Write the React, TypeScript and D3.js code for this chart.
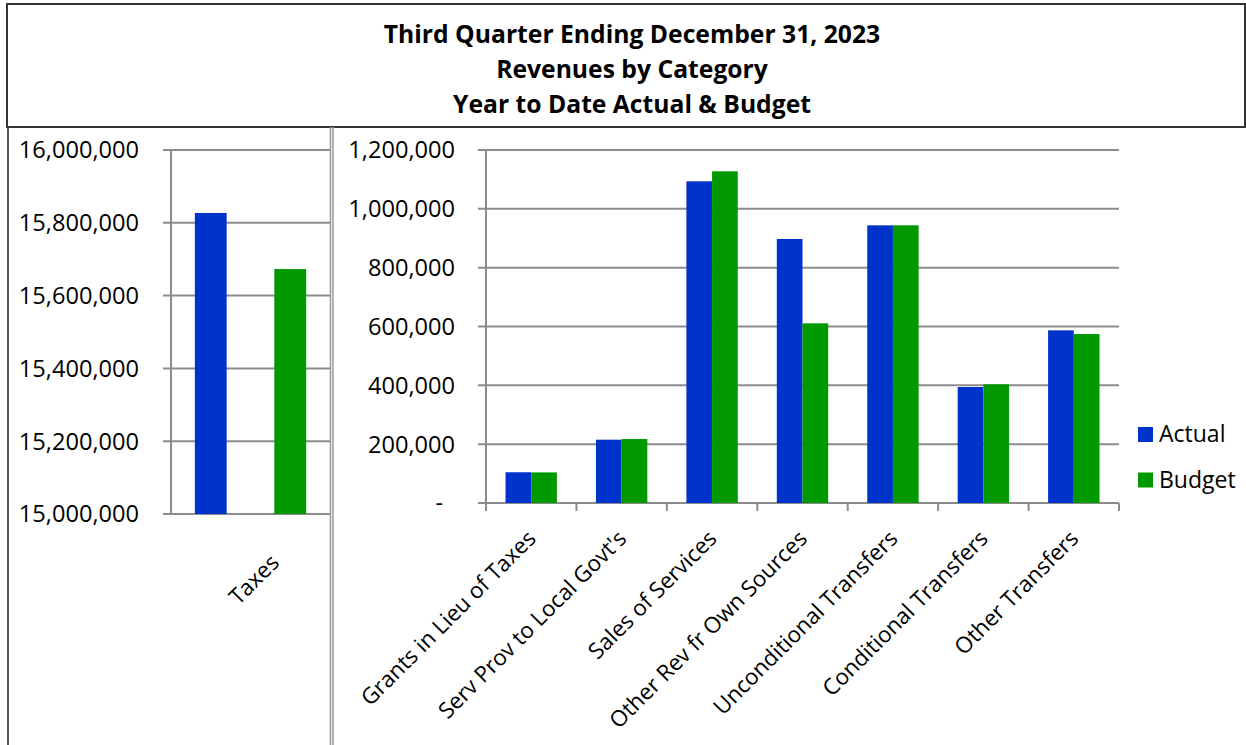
import React from "react";
import * as d3 from "d3";

const titleLines = [
  "Third Quarter Ending December 31, 2023",
  "Revenues by Category",
  "Year to Date Actual & Budget",
];
const series = ["Actual", "Budget"];
const colors = ["#0033CC", "#009900"];

const leftCategory = "Taxes";
const leftValues = [15827000, 15673000];
const leftTicks = [15000000, 15200000, 15400000, 15600000, 15800000, 16000000];

const categories = [
  "Grants in Lieu of Taxes",
  "Serv Prov to Local Govt's",
  "Sales of Services",
  "Other Rev fr Own Sources",
  "Unconditional Transfers",
  "Conditional Transfers",
  "Other Transfers",
];
const actual = [104500, 215200, 1093600, 897500, 944000, 394300, 587000];
const budget = [104000, 217600, 1127600, 610800, 944000, 403400, 574500];
const rightTicks = [0, 200000, 400000, 600000, 800000, 1000000, 1200000];

const FONT = "'Open Sans', sans-serif";
const GRID = "#8c8c8c";

export default function App() {
  const fmt = d3.format(",");

  // Left chart
  const ly = d3.scaleLinear().domain([15000000, 16000000]).range([514, 150]);
  const lx = d3
    .scaleBand<string>()
    .domain(series)
    .range([171, 330])
    .paddingInner(0.6)
    .paddingOuter(0.3);
  const lcx = (171 + 330) / 2;

  // Right chart
  const ry = d3.scaleLinear().domain([0, 1200000]).range([503, 150]);
  const rx0 = d3.scaleBand<string>().domain(categories).range([486, 1119]);
  const rx1 = d3
    .scaleBand<string>()
    .domain(series)
    .range([0, rx0.bandwidth()])
    .paddingInner(0)
    .paddingOuter(0.76);
  const rvals = [actual, budget];

  const boundaries = categories.map((c) => rx0(c) as number).concat([1119]);

  return (
    <svg
      width={1246}
      height={745}
      style={{ position: "absolute", left: 0, top: 0, background: "#fff" }}
      fontFamily={FONT}
    >
      {/* Title box */}
      <rect x={7} y={4} width={1238} height={123} fill="#fff" stroke="#333" strokeWidth={2} />
      {titleLines.map((t, i) => (
        <text
          key={t}
          x={632}
          y={43 + i * 35}
          textAnchor="middle"
          fontWeight="bold"
          fontSize={24.7}
          fill="#000"
        >
          {t}
        </text>
      ))}
      {/* left frame line */}
      <line x1={8} x2={8} y1={127} y2={745} stroke="#555" strokeWidth={2} />
      {/* separator */}
      <line x1={330.5} x2={330.5} y1={127} y2={745} stroke="#999" strokeWidth={1.5} />
      <line x1={333} x2={333} y1={127} y2={745} stroke="#999" strokeWidth={1.5} />

      {/* Left chart grid + ticks */}
      {leftTicks.map((t) => (
        <g key={t}>
          <line x1={163} x2={330} y1={ly(t)} y2={ly(t)} stroke={GRID} strokeWidth={2} />
          <text x={139} y={ly(t)} dy="0.36em" textAnchor="end" fontSize={23.6} fill="#000">
            {fmt(t)}
          </text>
        </g>
      ))}
      <line x1={171} x2={171} y1={150} y2={514} stroke={GRID} strokeWidth={2} />
      {series.map((s, i) => (
        <rect
          key={s}
          x={lx(s)}
          y={ly(leftValues[i])}
          width={lx.bandwidth()}
          height={ly(15000000) - ly(leftValues[i])}
          fill={colors[i]}
        />
      ))}
      <text
        transform={`translate(${lcx + 30},564) rotate(-45)`}
        textAnchor="end"
        fontSize={22.3}
        fill="#000"
      >
        {leftCategory}
      </text>

      {/* Right chart grid + ticks */}
      {rightTicks.map((t) => (
        <g key={t}>
          <line x1={478} x2={1119} y1={ry(t)} y2={ry(t)} stroke={GRID} strokeWidth={2} />
          <text
            x={t === 0 ? 443 : 455}
            y={ry(t)}
            dy="0.36em"
            textAnchor="end"
            fontSize={23.6}
            fill="#000"
          >
            {t === 0 ? "-" : fmt(t)}
          </text>
        </g>
      ))}
      <line x1={486} x2={486} y1={150} y2={511} stroke={GRID} strokeWidth={2} />
      {boundaries.map((b, i) => (
        <line key={i} x1={b} x2={b} y1={503} y2={511} stroke={GRID} strokeWidth={2} />
      ))}
      {categories.map((c, ci) => (
        <g key={c}>
          {series.map((s, si) => (
            <rect
              key={s}
              x={(rx0(c) as number) + (rx1(s) as number)}
              y={ry(rvals[si][ci])}
              width={rx1.bandwidth()}
              height={ry(0) - ry(rvals[si][ci])}
              fill={colors[si]}
            />
          ))}
          <text
            transform={`translate(${(rx0(c) as number) + rx0.bandwidth() / 2 + 6},540) rotate(-45)`}
            textAnchor="end"
            fontSize={22.3}
            fill="#000"
          >
            {c}
          </text>
        </g>
      ))}

      {/* Legend */}
      {series.map((s, i) => (
        <g key={s} transform={`translate(1138,${427 + i * 45.5})`}>
          <rect x={0} y={0} width={15} height={15} fill={colors[i]} />
          <text x={21} y={15} fontSize={23} fill="#000">
            {s}
          </text>
        </g>
      ))}
    </svg>
  );
}
